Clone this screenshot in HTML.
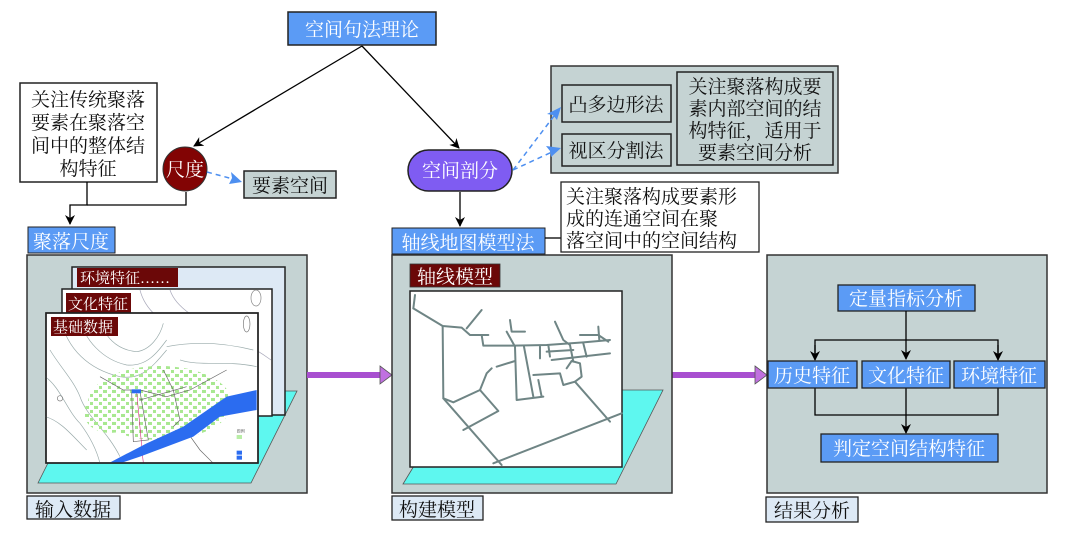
<!DOCTYPE html>
<html><head><meta charset="utf-8"><style>
html,body{margin:0;padding:0;background:#fff;}
svg{display:block;}
text{font-family:"Liberation Serif","Noto Serif CJK SC",serif;}
.w{fill:#fff;font-size:19px;}
.b{fill:#111;font-size:19px;}
</style></head><body>
<svg width="1068" height="539" viewBox="0 0 1068 539" xmlns="http://www.w3.org/2000/svg">
<defs>
<marker id="ah" markerWidth="10" markerHeight="10" refX="9" refY="5" orient="auto" markerUnits="userSpaceOnUse"><path d="M0,0 L10,5 L0,10 L3,5 z" fill="#000"/></marker>
<pattern id="houses" width="9" height="8" patternUnits="userSpaceOnUse"><rect x="0" y="0" width="4" height="3" fill="#a8e890"/><rect x="5" y="4" width="3" height="3" fill="#a8e890"/></pattern>
</defs>

<rect x="288" y="12" width="148" height="33" fill="#5b9bf5" stroke="#222" stroke-width="1.5"/>
<text class="w" x="362" y="36" text-anchor="middle">空间句法理论</text>
<line x1="362" y1="46" x2="194" y2="146" stroke="#000" stroke-width="1.3" marker-end="url(#ah)"/>
<line x1="362" y1="46" x2="459" y2="148" stroke="#000" stroke-width="1.3" marker-end="url(#ah)"/>

<rect x="20" y="83" width="137" height="99" fill="#fff" stroke="#222" stroke-width="1.5"/>
<text class="b" x="88" y="106" text-anchor="middle">关注传统聚落</text>
<text class="b" x="88" y="129" text-anchor="middle">要素在聚落空</text>
<text class="b" x="88" y="152" text-anchor="middle">间中的整体结</text>
<text class="b" x="88" y="175" text-anchor="middle">构特征</text>
<circle cx="185" cy="169" r="22" fill="#820404" stroke="#333" stroke-width="1"/>
<text class="w" x="185" y="176" text-anchor="middle">尺度</text>
<line x1="207" y1="172" x2="233" y2="179" stroke="#4d8ff0" stroke-width="1.5" stroke-dasharray="5,4"/>
<polygon points="242,182 229,184 232,178 231,172" fill="#4d8ff0"/>
<rect x="244" y="171" width="92" height="27" fill="#c5d3d3" stroke="#222" stroke-width="1.5"/>
<text class="b" x="290" y="192" text-anchor="middle">要素空间</text>
<polyline points="87,182 87,205 70,205 70,224" fill="none" stroke="#000" stroke-width="1.3" marker-end="url(#ah)"/>
<polyline points="186,192 186,205 87,205" fill="none" stroke="#000" stroke-width="1.3"/>
<rect x="28" y="227" width="87" height="26" fill="#5b9bf5" stroke="#222" stroke-width="1"/>
<text class="w" x="71" y="248" text-anchor="middle">聚落尺度</text>

<rect x="408" y="150" width="104" height="41" rx="20.5" fill="#7f5cf2" stroke="#222" stroke-width="1.5"/>
<text class="w" x="460" y="177" text-anchor="middle">空间剖分</text>
<rect x="551" y="66" width="287" height="107" fill="#c5d3d3" stroke="#333" stroke-width="1.5"/>
<line x1="513" y1="170" x2="554" y2="116" stroke="#4d8ff0" stroke-width="1.5" stroke-dasharray="5,4"/>
<polygon points="561,107 557,120 553,115 547,114" fill="#4d8ff0"/>
<line x1="513" y1="170" x2="552" y2="152" stroke="#4d8ff0" stroke-width="1.5" stroke-dasharray="5,4"/>
<polygon points="561,148 551,157 550,151 546,146" fill="#4d8ff0"/>
<rect x="562" y="85" width="109" height="37" fill="#c5d3d3" stroke="#222" stroke-width="1.5"/>
<text class="b" x="616" y="111" text-anchor="middle">凸多边形法</text>
<rect x="562" y="134" width="109" height="32" fill="#c5d3d3" stroke="#222" stroke-width="1.5"/>
<text class="b" x="616" y="157" text-anchor="middle">视区分割法</text>
<rect x="677" y="72" width="156" height="93" fill="#c5d3d3" stroke="#222" stroke-width="1.5"/>
<text class="b" x="755" y="93" text-anchor="middle">关注聚落构成要</text>
<text class="b" x="755" y="115" text-anchor="middle">素内部空间的结</text>
<text class="b" x="755" y="137" text-anchor="middle">构特征，适用于</text>
<text class="b" x="755" y="159" text-anchor="middle">要素空间分析</text>
<line x1="460" y1="192" x2="460" y2="226" stroke="#000" stroke-width="1.3" marker-end="url(#ah)"/>
<rect x="392" y="228" width="153" height="26" fill="#5b9bf5" stroke="#222" stroke-width="1"/>
<text class="w" x="468" y="249" text-anchor="middle">轴线地图模型法</text>
<line x1="545" y1="238" x2="561" y2="238" stroke="#000" stroke-width="1.3"/>
<rect x="561" y="182" width="198" height="70" fill="#fff" stroke="#222" stroke-width="1.3"/>
<text class="b" x="566" y="203">关注聚落构成要素形</text>
<text class="b" x="566" y="225">成的连通空间在聚</text>
<text class="b" x="566" y="247">落空间中的空间结构</text>

<rect x="27" y="255" width="280" height="238" fill="#c5d3d3" stroke="#333" stroke-width="1.5"/>
<polygon points="38,483 84,391 297,391 251,483" fill="#5ef7ef" stroke="#555" stroke-width="0.8"/>
<rect x="72" y="267" width="213" height="148" fill="#dde9f5" stroke="#222" stroke-width="1.5"/>
<rect x="77" y="268" width="101" height="19" fill="#6b0808"/>
<text class="w" x="80" y="283" style="font-size:15px">环境特征……</text>
<rect x="62" y="289" width="210" height="127" fill="#fff" stroke="#222" stroke-width="1.5"/>
<g stroke="#aab" stroke-width="0.7" fill="none"><path d="M140,290 C150,330 200,330 240,380"/><path d="M170,290 C180,320 230,330 271,360"/></g>
<ellipse cx="256" cy="298" rx="5" ry="8" fill="none" stroke="#888" stroke-width="0.7"/>
<rect x="66" y="293" width="65" height="20" fill="#6b0808"/>
<text class="w" x="68" y="309" style="font-size:15px">文化特征</text>
<rect x="46" y="313" width="212" height="150" fill="#fff" stroke="#222" stroke-width="1.5"/>
<g transform="translate(40,310) scale(0.3333)">
 <g fill="none" stroke="#9aa" stroke-width="2">
  <path d="M60,20 C80,120 150,180 240,200 C300,210 330,180 380,120"/>
  <path d="M120,20 C130,90 190,150 260,165 C320,170 350,130 380,90"/>
  <path d="M180,20 C190,80 230,120 290,125 C330,120 360,80 370,40"/>
  <path d="M30,120 C60,170 100,210 120,260 C140,320 200,360 240,440"/>
  <path d="M15,200 C60,230 80,300 120,340 C150,380 170,420 180,460"/>
  <path d="M380,110 C430,100 520,90 640,120"/>
  <path d="M420,150 C480,170 560,150 650,170"/>
  <path d="M15,320 C60,330 100,380 140,420"/>
 </g>
 <g transform="scale(3)">
 <ellipse cx="120" cy="93" rx="72" ry="37" fill="url(#houses)"/>
 <ellipse cx="70" cy="103" rx="26" ry="20" fill="url(#houses)"/>
 </g>
 <g fill="none" stroke="#666" stroke-width="2"><path d="M180,200 L250,240 L300,240 L380,260 L450,240 L560,180"/><path d="M275,245 L280,395 L325,390 L300,245"/><path d="M370,180 L400,240 L420,330 L400,350"/><path d="M430,350 L480,420 L520,460"/><path d="M300,270 L440,230"/></g>
 <line x1="290" y1="245" x2="310" y2="460" stroke="#c06" stroke-width="1.5"/>
 <rect x="275" y="238" width="28" height="12" fill="#2b6cf0"/>
 <polygon points="205,460 320,400 430,350 560,260 650,240 650,300 540,320 460,380 300,440 240,460" fill="#2b6cf0"/>
 <ellipse cx="620" cy="42" rx="10" ry="24" fill="none" stroke="#777" stroke-width="2"/>
 <circle cx="60" cy="265" r="8" fill="none" stroke="#777" stroke-width="2"/>
 <rect x="590" y="375" width="16" height="12" fill="#b9eea6"/><rect x="590" y="422" width="16" height="12" fill="#2b6cf0"/><rect x="590" y="437" width="16" height="12" fill="#2b6cf0"/>
 <text x="590" y="368" style="font-size:12px" fill="#333">图例</text>
</g>
<rect x="46" y="313" width="212" height="150" fill="none" stroke="#222" stroke-width="1.5"/>
<rect x="51" y="317" width="67" height="19" fill="#6b0808"/>
<text class="w" x="53" y="332" style="font-size:15px">基础数据</text>
<rect x="27" y="496" width="93" height="23" fill="#dde9f5" stroke="#222" stroke-width="1.3"/>
<text class="b" x="73" y="516" text-anchor="middle">输入数据</text>

<rect x="307" y="372" width="75" height="6" fill="#a84fd0"/>
<polygon points="380,366 392,375 380,384" fill="#c070e0" stroke="#555" stroke-width="0.8"/>
<rect x="672" y="372" width="84" height="6" fill="#a84fd0"/>
<polygon points="755,366 767,375 755,384" fill="#c070e0" stroke="#555" stroke-width="0.8"/>

<rect x="392" y="255" width="280" height="238" fill="#c5d3d3" stroke="#333" stroke-width="1.5"/>
<polygon points="403,484 460,390 663,390 616,484" fill="#5ef7ef" stroke="#555" stroke-width="0.8"/>
<rect x="410" y="291" width="212" height="176" fill="#fff" stroke="#222" stroke-width="1.5"/>
<g transform="translate(400,285) scale(0.3333)" fill="none" stroke="#6f8585" stroke-width="6" stroke-linejoin="round" stroke-linecap="round">
 <polyline points="45,30 40,70"/>
 <polyline points="40,70 128,123 185,128 210,150 265,150"/>
 <polyline points="200,130 245,75"/>
 <polyline points="245,150 250,182 340,182 440,180 550,172 630,165"/>
 <polyline points="128,123 130,340 160,352 240,315 295,378 190,435"/>
 <polyline points="130,340 305,540"/>
 <polyline points="240,315 260,265 275,250"/>
 <polyline points="290,245 345,228"/>
 <polyline points="320,140 345,185 350,345 430,335"/>
 <polyline points="330,105 335,140 375,140"/>
 <polyline points="372,185 400,335"/>
 <polyline points="400,270 480,265 490,300 525,290 545,275 540,235 515,228 500,250"/>
 <polyline points="420,185 420,220"/><polyline points="445,180 450,215"/><polyline points="415,285 425,335"/>
 <polyline points="465,110 490,165 510,180 520,230"/>
 <polyline points="440,200 520,195"/><polyline points="455,225 630,205"/>
 <polyline points="540,150 595,150 625,170"/><polyline points="595,125 598,165"/>
 <polyline points="550,175 560,215"/>
 <polyline points="525,290 630,410"/>
 <polyline points="280,535 665,385"/>
</g>
<rect x="410" y="264" width="90" height="23" fill="#6b0808" stroke="#333" stroke-width="0.8"/>
<text class="w" x="455" y="283" text-anchor="middle">轴线模型</text>
<rect x="392" y="496" width="91" height="24" fill="#dde9f5" stroke="#222" stroke-width="1.3"/>
<text class="b" x="437" y="516" text-anchor="middle">构建模型</text>

<rect x="767" y="255" width="280" height="238" fill="#c5d3d3" stroke="#333" stroke-width="1.5"/>
<rect x="838" y="285" width="137" height="26" fill="#5b9bf5" stroke="#222" stroke-width="1.3"/>
<text class="w" x="906" y="305" text-anchor="middle">定量指标分析</text>
<g stroke="#000" stroke-width="1.3" fill="none">
 <line x1="906" y1="311" x2="906" y2="359" marker-end="url(#ah)"/>
 <polyline points="815,359 815,340 998,340 998,359"/>
 <line x1="815" y1="345" x2="815" y2="360" marker-end="url(#ah)"/>
 <line x1="998" y1="345" x2="998" y2="360" marker-end="url(#ah)"/>
 <polyline points="815,388 815,415 998,415 998,388"/>
 <line x1="906" y1="388" x2="906" y2="433" marker-end="url(#ah)"/>
</g>
<rect x="768" y="361" width="89" height="27" fill="#5b9bf5" stroke="#222" stroke-width="1.3"/>
<text class="w" x="812" y="382" text-anchor="middle">历史特征</text>
<rect x="862" y="361" width="88" height="27" fill="#5b9bf5" stroke="#222" stroke-width="1.3"/>
<text class="w" x="906" y="382" text-anchor="middle">文化特征</text>
<rect x="954" y="361" width="91" height="27" fill="#5b9bf5" stroke="#222" stroke-width="1.3"/>
<text class="w" x="999" y="382" text-anchor="middle">环境特征</text>
<rect x="821" y="434" width="177" height="28" fill="#5b9bf5" stroke="#222" stroke-width="1.3"/>
<text class="w" x="909" y="455" text-anchor="middle">判定空间结构特征</text>
<rect x="766" y="497" width="92" height="25" fill="#dde9f5" stroke="#222" stroke-width="1.3"/>
<text class="b" x="812" y="517" text-anchor="middle">结果分析</text>
</svg>
</body></html>
